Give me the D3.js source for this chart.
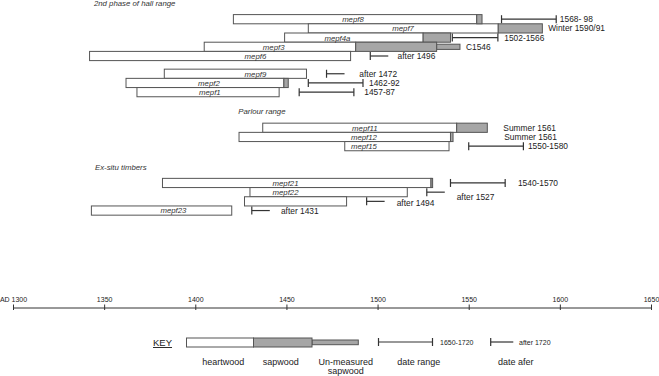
<!DOCTYPE html>
<html><head><meta charset="utf-8">
<script src="https://cdn.jsdelivr.net/npm/d3@7"></script>
<style>body{margin:0;background:#fff}svg{display:block;font-family:"Liberation Sans",Arial,sans-serif}</style>
</head><body><svg id="c" width="659" height="376"></svg>
<script>
// ---- data ----
const names      = ["mepf8","mepf7","mepf4a","mepf3","mepf6","mepf9","mepf2","mepf1","mepf11","mepf12","mepf15","mepf21","mepf22","","mepf23"];
const rows       = [0,1,2,3,4,5.93,6.93,7.93,11.8,12.8,13.8,17.8,18.8,19.8,20.8];
const startYear  = [1420.9,1462,1449,1404.9,1342,1383,1362,1368,1437,1424,1482,1382,1430,1427,1343];
const heartEnd   = [1554.4,1566.2,1525,1488,1485.2,1461,1448.6,1446,1543.4,1540,1539.2,1529.3,1516.3,1483,1420];
const sapEnd     = [1557.3,1590.4,1540,1532.4,1485.2,1461,1451,1446,1560.2,1541.4,1539.2,1530.2,1516.3,1483,1420];
const unmeasEnd  = [null,null,null,1545.2,null,null,null,null,null,null,null,null,null,null,null];
const labelYear  = [1486.5,1514,1478,1443,1433,1433,1407.5,1408,1493,1492.5,1492.5,1449.5,1449.5,null,1388];
const felling    = [["range",1568,1598],null,["range",1541,1566],null,["after",1496],["after",1472],["range",1462,1492],["range",1457,1487],null,null,["range",1550,1580],["range",1540,1570],["after",1527],["after",1494],["after",1431]];
const notes      = ["1568- 98","Winter 1590/91","1502-1566","C1546","after 1496","after 1472","1462-92","1457-87","Summer 1561","Summer 1561","1550-1580","1540-1570","after 1527","after 1494","after 1431"];
const noteYear   = [1600,1593.6,1569.5,1548.5,1511,1490,1495.3,1492.7,1569,1569.5,1582.5,1577,1543.4,1510.5,1447];
const noteRow    = [0,1,2,3,4,5.93,6.93,7.93,11.8,12.8,13.8,17.8,19.28,19.98,20.9];
const sections   = ["2nd phase of hall range","Parlour range","Ex-situ timbers"];
const sectionYear= [1344.4,1423.6,1345];
const sectionRow = [-1.76,9.98,16.14];
const axisTicks  = [1300,1350,1400,1450,1500,1550,1600,1650];

// ---- scales ----
const x = d3.scaleLinear().domain([1300,1650]).range([13,651]);
const y = d3.scaleLinear().domain([0,1]).range([19.2,28.4]);
const H = 9.2;
const svg = d3.select("#c");
const STROKE="#555", GREY="#a6a6a6", TXT="#222";

const data = names.map((n,i)=>({n,i,row:rows[i],s:startYear[i],h:heartEnd[i],sp:sapEnd[i],u:unmeasEnd[i],ly:labelYear[i],f:felling[i],note:notes[i],ny:noteYear[i],nr:noteRow[i]}));

const g = svg.append("g");
// heartwood
g.selectAll("rect.hw").data(data).join("rect").attr("class","hw")
  .attr("x",d=>x(d.s)).attr("y",d=>y(d.row)-H/2).attr("width",d=>x(d.h)-x(d.s)).attr("height",H)
  .attr("fill","#fff").attr("stroke",STROKE).attr("stroke-width",1);
// unmeasured sapwood
g.selectAll("rect.um").data(data.filter(d=>d.u)).join("rect").attr("class","um")
  .attr("x",d=>x(d.sp)).attr("y",d=>y(d.row)-2.6).attr("width",d=>x(d.u)-x(d.sp)).attr("height",5.2)
  .attr("fill",GREY).attr("stroke",STROKE).attr("stroke-width",1);
// sapwood
g.selectAll("rect.sw").data(data.filter(d=>d.sp>d.h)).join("rect").attr("class","sw")
  .attr("x",d=>x(d.h)).attr("y",d=>y(d.row)-H/2).attr("width",d=>x(d.sp)-x(d.h)).attr("height",H)
  .attr("fill",GREY).attr("stroke",STROKE).attr("stroke-width",1);
// bar labels
g.selectAll("text.bl").data(data.filter(d=>d.n)).join("text").attr("class","bl")
  .attr("x",d=>x(d.ly)).attr("y",d=>y(d.row)+2.9).attr("text-anchor","middle")
  .attr("font-size","7.8px").attr("font-style","italic").attr("fill","#333").text(d=>d.n);

// felling brackets
const fb = g.selectAll("g.fb").data(data.filter(d=>d.f)).join("g").attr("class","fb")
  .attr("stroke","#333").attr("stroke-width",1.2).attr("fill","none");
fb.append("line").attr("x1",d=>x(d.f[1])).attr("x2",d=>d.f[0]==="range"?x(d.f[2]):x(d.f[1])+18)
  .attr("y1",d=>y(d.row)).attr("y2",d=>y(d.row));
fb.append("line").attr("x1",d=>x(d.f[1])).attr("x2",d=>x(d.f[1])).attr("y1",d=>y(d.row)-4).attr("y2",d=>y(d.row)+4);
fb.filter(d=>d.f[0]==="range").append("line").attr("x1",d=>x(d.f[2])).attr("x2",d=>x(d.f[2])).attr("y1",d=>y(d.row)-4).attr("y2",d=>y(d.row)+4);

// notes
g.selectAll("text.nt").data(data).join("text").attr("class","nt")
  .attr("x",d=>x(d.ny)).attr("y",d=>y(d.nr)+3).attr("font-size","8.4px").attr("fill",TXT).text(d=>d.note);

// section labels
g.selectAll("text.sec").data(sections).join("text").attr("class","sec")
  .attr("x",(d,i)=>x(sectionYear[i])).attr("y",(d,i)=>y(sectionRow[i])+2.8)
  .attr("font-size","7.8px").attr("font-style","italic").attr("fill","#333").text(d=>d);

// axis
const ax = svg.append("g").attr("transform","translate(0,307.5)")
  .call(d3.axisTop(x).tickValues(axisTicks).tickSizeInner(3).tickSizeOuter(0).tickPadding(3)
        .tickFormat(d=>d===1300?"AD 1300":String(d)));
ax.select(".domain").attr("stroke","#333");
ax.selectAll(".tick line").attr("stroke","#333").attr("y1",2.5).attr("y2",-3);
ax.selectAll(".tick text").attr("font-size","7px").attr("fill",TXT).attr("font-family","Liberation Sans, Arial, sans-serif");

// key / legend
const k = svg.append("g");
k.append("text").attr("x",153).attr("y",346).attr("font-size","9.5px").attr("fill",TXT)
  .attr("text-decoration","underline").text("KEY");
k.append("rect").attr("x",186.5).attr("y",338).attr("width",67).attr("height",9).attr("fill","#fff").attr("stroke",STROKE);
k.append("rect").attr("x",312).attr("y",340).attr("width",46.3).attr("height",4.7).attr("fill",GREY).attr("stroke",STROKE);
k.append("rect").attr("x",253.5).attr("y",338).attr("width",58.5).attr("height",9).attr("fill",GREY).attr("stroke",STROKE);
const kl = k.append("g").attr("stroke","#333").attr("stroke-width",1.2);
kl.append("line").attr("x1",378.5).attr("x2",432.5).attr("y1",342).attr("y2",342);
kl.append("line").attr("x1",378.5).attr("x2",378.5).attr("y1",338).attr("y2",346);
kl.append("line").attr("x1",432.5).attr("x2",432.5).attr("y1",338).attr("y2",346);
kl.append("line").attr("x1",490.7).attr("x2",513.3).attr("y1",342).attr("y2",342);
kl.append("line").attr("x1",490.7).attr("x2",490.7).attr("y1",338).attr("y2",346);
k.append("text").attr("x",440).attr("y",344.5).attr("font-size","7px").attr("fill",TXT).text("1650-1720");
k.append("text").attr("x",519).attr("y",344.5).attr("font-size","7px").attr("fill",TXT).text("after 1720");
const keyLabels=[["heartwood",223.3,365],["sapwood",280.7,365],["Un-measured",345.7,365],["sapwood",345.7,374.3],["date range",418.7,365],["date afer",515.7,365]];
k.selectAll("text.kl").data(keyLabels).join("text").attr("class","kl")
  .attr("x",d=>d[1]).attr("y",d=>d[2]).attr("text-anchor","middle").attr("font-size","9px").attr("fill",TXT).text(d=>d[0]);
</script></body></html>
